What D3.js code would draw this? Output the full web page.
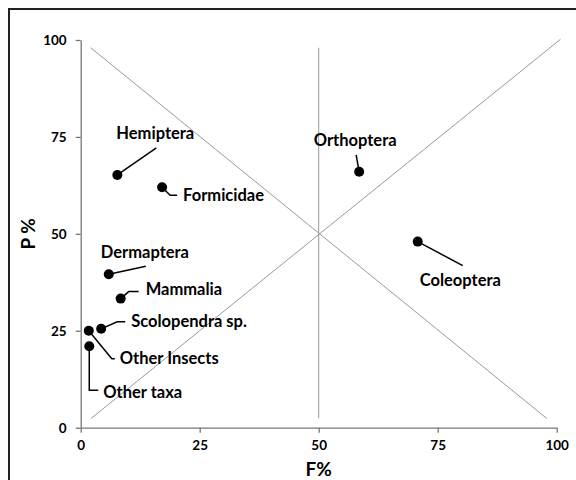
<!DOCTYPE html>
<html>
<head>
<meta charset="utf-8">
<script src="https://cdn.jsdelivr.net/npm/d3@7"></script>
<style>
  body { margin: 0; background: #fff; }
  text { font-family: Lato, "Open Sans", sans-serif; font-weight: bold; fill: #000; }
</style>
</head>
<body>
<script>
// taxa and their F% / P% values
const taxa = ['Hemiptera', 'Formicidae', 'Orthoptera', 'Coleoptera', 'Dermaptera',
  'Mammalia', 'Scolopendra sp.', 'Other Insects', 'Other taxa'];
const fValues = [7.7, 17.1, 58.5, 70.8, 5.9, 8.4, 4.3, 1.7, 1.8];
const pValues = [65.2, 62.0, 66.0, 48.0, 39.6, 33.3, 25.5, 25.0, 21.0];
const xTicks = [0, 25, 50, 75, 100];
const yTicks = [0, 25, 50, 75, 100];

// quadrant guide lines, in data units
const guides = [
  [[2.1, 98], [97.9, 2.4]],
  [[2.2, 2.4], [100.8, 100.2]],
  [[50, 2.4], [50, 98]]
];

// label placement relative to the point (pixels): text anchor + leader path
const labelLayout = {
  'Hemiptera':       { tx: -1,  ty: -36, anchor: 'start',  leader: [[0, 0], [39, -27]] },
  'Formicidae':      { tx: 21,  ty: 14,  anchor: 'start',  leader: [[0, 0], [8, 8], [15, 8]] },
  'Orthoptera':      { tx: -4,  ty: -26, anchor: 'middle', leader: [[0, 0], [-3, -17]] },
  'Coleoptera':      { tx: 2,   ty: 44,  anchor: 'start',  leader: [[0, 0], [45, 24]] },
  'Dermaptera':      { tx: -8,  ty: -16, anchor: 'start',  leader: [[0, 0], [37, -8]] },
  'Mammalia':        { tx: 25,  ty: -4,  anchor: 'start',  leader: [[0, 0], [8, -7], [18, -7]] },
  'Scolopendra sp.': { tx: 30,  ty: -2,  anchor: 'start',  leader: [[0, 0], [16, -7], [24, -7]] },
  'Other Insects':   { tx: 31,  ty: 33,  anchor: 'start',  leader: [[0, 0], [23, 28], [26, 28]] },
  'Other taxa':      { tx: 14,  ty: 52,  anchor: 'start',  leader: [[0, 0], [0, 44], [9, 44]] }
};

const width = 576, height = 480;
const margin = { left: 80.7, right: 19.3, top: 40, bottom: 52.3 };

const svg = d3.select(document.body).append('svg')
  .attr('width', width)
  .attr('height', height);

// outer frame (runs off the right and bottom edges)
svg.append('rect')
  .attr('x', 9).attr('y', 9)
  .attr('width', 600).attr('height', 500)
  .attr('fill', 'none')
  .attr('stroke', '#222')
  .attr('stroke-width', 2);

const x = d3.scaleLinear().domain([0, 100]).range([margin.left, width - margin.right]);
const y = d3.scaleLinear().domain([0, 100]).range([height - margin.bottom, margin.top]);

const line = d3.line().x(d => x(d[0])).y(d => y(d[1]));

svg.selectAll('.guide').data(guides)
  .enter().append('path')
  .classed('guide', true)
  .attr('d', line)
  .attr('fill', 'none')
  .attr('stroke', '#999')
  .attr('stroke-width', 1);

// axes
const xAxis = svg.append('g')
  .attr('transform', `translate(0,${y(0)})`)
  .call(d3.axisBottom(x).tickValues(xTicks).tickSize(5).tickSizeOuter(0).tickPadding(8));
const yAxis = svg.append('g')
  .attr('transform', `translate(${x(0)},0)`)
  .call(d3.axisLeft(y).tickValues(yTicks).tickSize(5).tickSizeOuter(0).tickPadding(9));

[xAxis, yAxis].forEach(g => {
  g.select('.domain').attr('stroke', '#777').attr('stroke-width', 1.3);
  g.selectAll('.tick line').attr('stroke', '#777').attr('stroke-width', 1.3);
  g.selectAll('.tick text')
    .style('font-family', 'Lato, sans-serif')
    .style('font-weight', 'bold')
    .style('font-size', '13.5px')
    .attr('fill', '#000');
});

svg.append('text')
  .attr('x', x(50)).attr('y', 476)
  .attr('text-anchor', 'middle')
  .style('font-size', '19px')
  .text('F%');

svg.append('text')
  .attr('transform', `translate(35,${y(50)}) rotate(-90)`)
  .attr('text-anchor', 'middle')
  .style('font-size', '19px')
  .text('P %');

const points = taxa.map((name, i) => ({ name, f: fValues[i], p: pValues[i] }));

const marks = svg.selectAll('.taxon').data(points)
  .enter().append('g')
  .classed('taxon', true)
  .attr('transform', d => `translate(${x(d.f)},${y(d.p)})`);

marks.append('path')
  .attr('d', d => d3.line()(labelLayout[d.name].leader))
  .attr('fill', 'none')
  .attr('stroke', '#000')
  .attr('stroke-width', 1.5);

marks.append('circle')
  .attr('r', 5)
  .attr('fill', '#000');

marks.append('text')
  .attr('x', d => labelLayout[d.name].tx)
  .attr('y', d => labelLayout[d.name].ty)
  .attr('text-anchor', d => labelLayout[d.name].anchor)
  .style('font-size', '16.5px')
  .text(d => d.name);
</script>
</body>
</html>
